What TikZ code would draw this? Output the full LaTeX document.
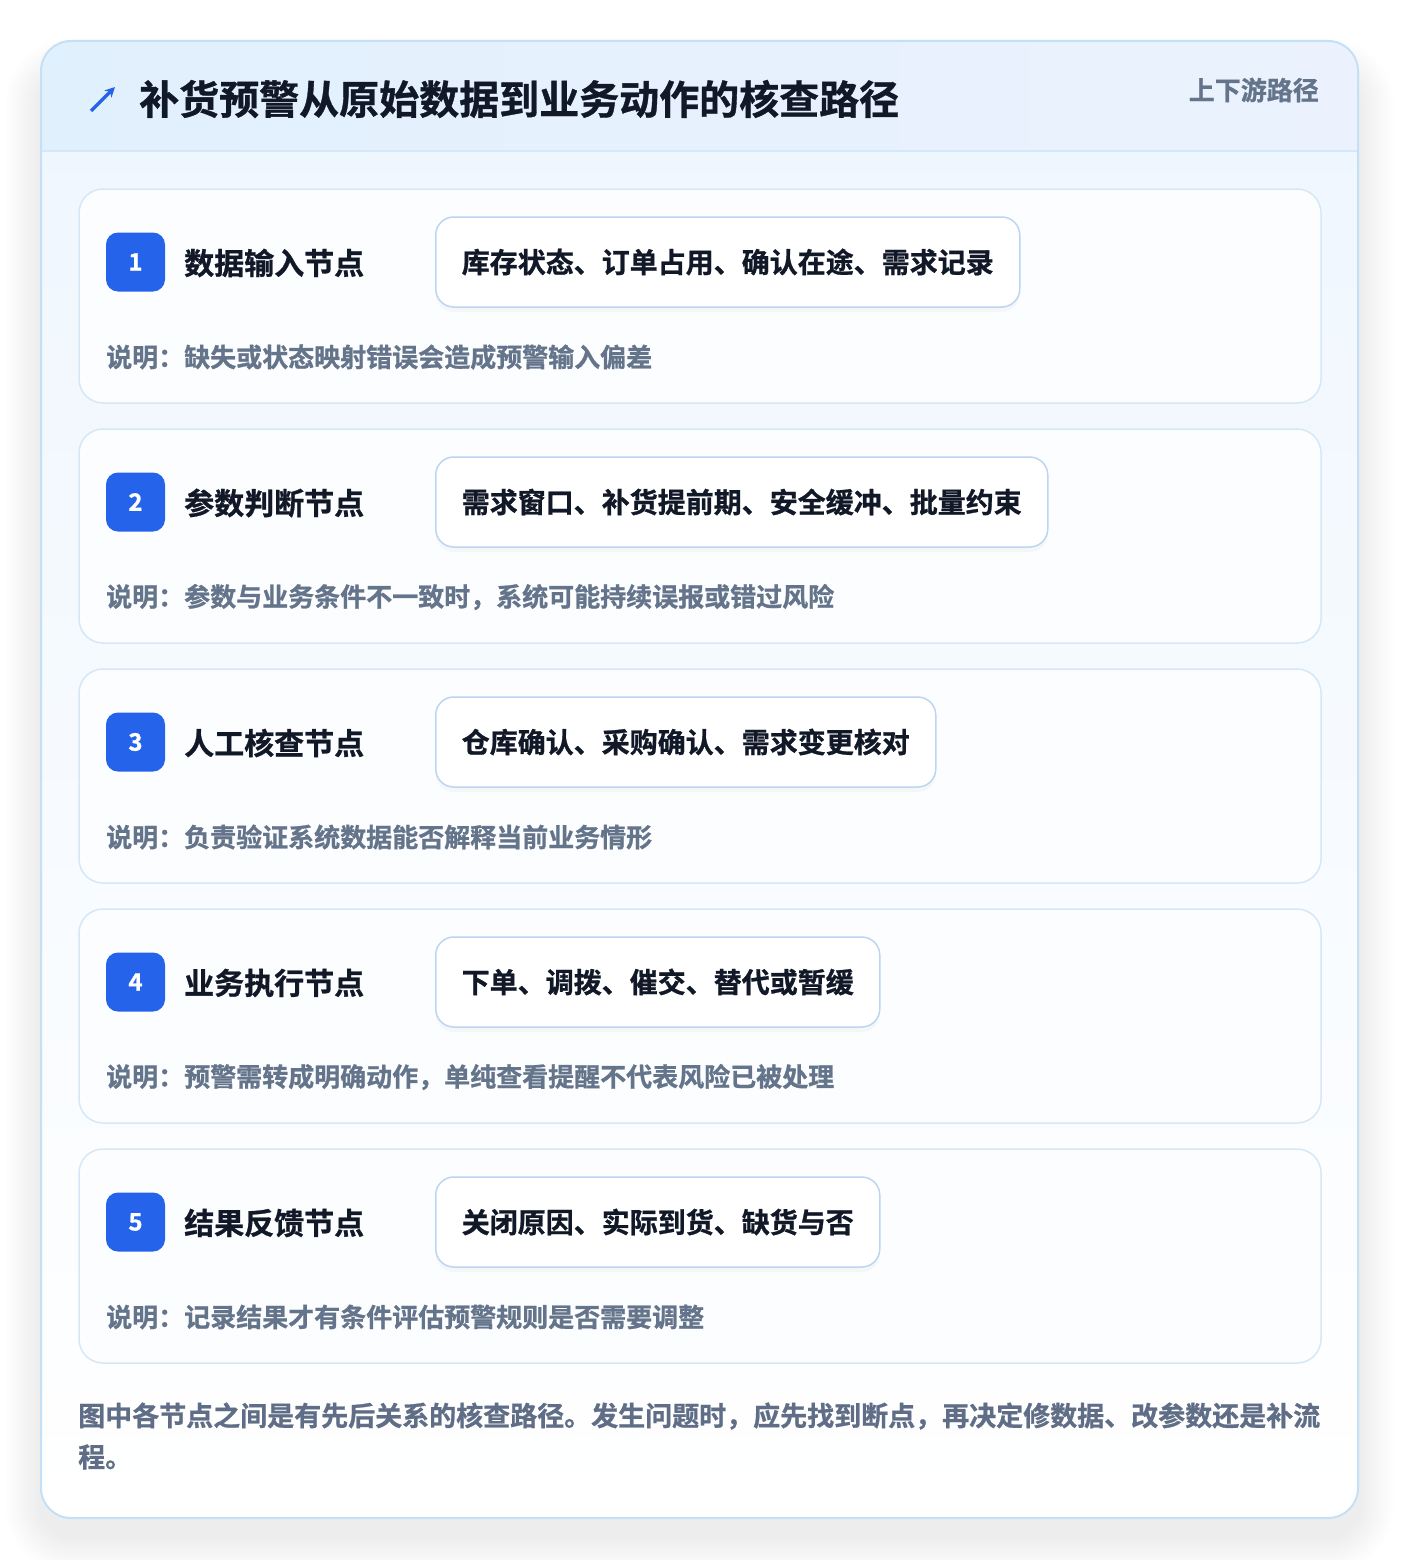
\documentclass[tikz,border=0pt]{standalone}
\usepackage{fontspec}
\setmainfont{Noto Sans CJK SC}[BoldFont={* Bold}, BoldFeatures={FakeBold=0.9}]
\usetikzlibrary{arrows.meta,shadows}
\definecolor{cardborder}{HTML}{C3E0F6}
\definecolor{cardtop}{HTML}{EEF6FE}
\definecolor{hdrL}{HTML}{E1F0FD}
\definecolor{hdrR}{HTML}{EBF2FD}
\definecolor{hdrline}{HTML}{D5E8F9}
\definecolor{innerborder}{HTML}{D6E7F7}
\definecolor{innerfill}{HTML}{FCFDFF}
\definecolor{chipborder}{HTML}{BDD5F2}
\definecolor{numfill}{HTML}{2563EB}
\definecolor{darktext}{HTML}{111827}
\definecolor{slate}{HTML}{64748B}
\definecolor{foot}{HTML}{5F6E86}
\tikzset{
  card/.style={draw=innerborder, line width=1.5pt, fill=innerfill, rounded corners=24pt},
  numbox/.style={fill=numfill, rounded corners=12pt, minimum width=59pt, minimum height=59pt, inner sep=0pt, text=white, font=\bfseries\fontsize{24}{28}\selectfont},
  steptitle/.style={anchor=west, inner sep=0pt, text=darktext, font=\bfseries\fontsize{30}{36}\selectfont},
  chip/.style={anchor=west, draw=chipborder, line width=1.5pt, fill=white, rounded corners=18pt, minimum height=90pt, inner xsep=26pt, inner ysep=0pt, text=darktext, font=\bfseries\fontsize{28}{34}\selectfont, drop shadow={opacity=0.05, shadow xshift=0pt, shadow yshift=-5pt}},
  desc/.style={anchor=west, inner sep=0pt, text=slate, font=\bfseries\fontsize{26}{30}\selectfont},
}
\begin{document}
\begin{tikzpicture}[x=1pt,y=-1pt]
\useasboundingbox (0,0) rectangle (1400,1560);
\fill[white] (0,0) rectangle (1400,1560);
% outer soft shadow
\foreach \s in {2,4,...,36} {
  \fill[black, opacity=0.005, rounded corners=30pt+\s pt] (41-\s,74-\s) rectangle (1358+\s,1536+\s);
}
% outer card
\path[rounded corners=30pt, top color=cardtop, bottom color=white] (41,41) rectangle (1358,1518);
\begin{scope}
  \clip[rounded corners=30pt] (41,41) rectangle (1358,1518);
  \fill[left color=hdrL, right color=hdrR] (41,41) rectangle (1358,151);
  \draw[hdrline, line width=1.5pt] (41,151) -- (1358,151);
\end{scope}
\draw[cardborder, line width=2pt, rounded corners=30pt] (41,41) rectangle (1358,1518);
% header
\coordinate (arrS) at (91,111);
\coordinate (arrE) at (115,87);
\draw[numfill, line width=3.2pt, -{Stealth[length=10pt,width=10pt]}] (arrS) -- (arrE);
\node[anchor=west, inner sep=0pt, text=darktext, font=\bfseries\fontsize{40}{46}\selectfont] (title) at (139,99) {补货预警从原始数据到业务动作的核查路径};
\node[anchor=east, inner sep=0pt, text=slate, font=\bfseries\fontsize{26}{30}\selectfont] (tag) at (1319,90) {上下游路径};
% steps
\foreach \i/\t/\c/\d in {
  1/数据输入节点/库存状态、订单占用、确认在途、需求记录/说明：缺失或状态映射错误会造成预警输入偏差,
  2/参数判断节点/需求窗口、补货提前期、安全缓冲、批量约束/说明：参数与业务条件不一致时，系统可能持续误报或错过风险,
  3/人工核查节点/仓库确认、采购确认、需求变更核对/说明：负责验证系统数据能否解释当前业务情形,
  4/业务执行节点/下单、调拨、催交、替代或暂缓/说明：预警需转成明确动作，单纯查看提醒不代表风险已被处理,
  5/结果反馈节点/关闭原因、实际到货、缺货与否/说明：记录结果才有条件评估预警规则是否需要调整} {
  \pgfmathsetmacro{\yo}{189+240*(\i-1)}
  \draw[card] (79,\yo) rectangle (1321,\yo+214);
  \node[numbox] (num\i) at (135.5,\yo+73) {\i};
  \node[steptitle] (name\i) at (184,\yo+74) {\t};
  \node[chip] (chip\i) at (435,\yo+73) {\c};
  \node[desc] (desc\i) at (106,\yo+168) {\d};
}
% footer
\node[anchor=west, inner sep=0pt, text=foot, font=\bfseries\fontsize{27}{32}\selectfont] (foot1) at (78,1416) {图中各节点之间是有先后关系的核查路径。发生问题时，应先找到断点，再决定修数据、改参数还是补流};
\node[anchor=west, inner sep=0pt, text=foot, font=\bfseries\fontsize{27}{32}\selectfont] (foot2) at (78,1457) {程。};
\end{tikzpicture}
\end{document}
